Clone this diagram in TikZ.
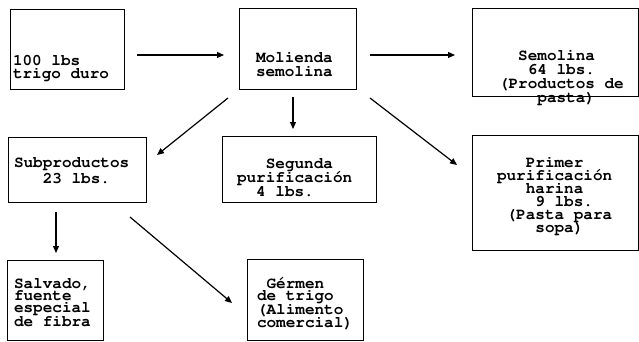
\documentclass[tikz,border=0pt]{standalone}
\usepackage[T1,TU]{fontenc}
\usetikzlibrary{arrows.meta}
\tikzset{
  box/.style={draw, line width=1pt, inner sep=0pt, outer sep=0pt},
  txt/.style={anchor=base west, align=left, inner sep=0pt, outer sep=0pt, font=\fontencoding{T1}\fontfamily{pcr}\fontseries{b}\fontsize{16}{#1}\selectfont},
  arr/.style={line width=1.2pt, -{Triangle[length=7pt,width=6pt]}}
}
\newcommand\pad[1]{\phantom{#1}}
\begin{document}
\begin{tikzpicture}[x=1pt,y=-1pt]
\useasboundingbox (0,0) rectangle (639,341);
% boxes
\node[box, minimum width=114pt, minimum height=80pt] (b1) at (67,49) {};
\node[box, minimum width=117pt, minimum height=81pt] (b2) at (297.5,48.5) {};
\node[box, minimum width=166pt, minimum height=88pt] (b3) at (555,52) {};
\node[box, minimum width=138pt, minimum height=65pt] (b4) at (77,169.5) {};
\node[box, minimum width=154pt, minimum height=66pt] (b5) at (299,169) {};
\node[box, minimum width=166pt, minimum height=115pt] (b6) at (555,192.5) {};
\node[box, minimum width=96pt, minimum height=80pt] (b7) at (55,300) {};
\node[box, minimum width=116pt, minimum height=81pt] (b8) at (305,299.5) {};
% texts (anchor = baseline of last line)
\node[txt=13pt] (t1) at (13,78) {100 lbs\\trigo duro};
\node[txt=14pt] (t2) at (256,76) {Molienda\\semolina};
\node[txt=14pt] (t3) at (499,102) {\pad{00}Semolina\\\pad{000}64 lbs.\\(Productos de\\\pad{0000}pasta)};
\node[txt=16pt] (t4) at (14,183) {Subproductos\\\pad{000}23 lbs.};
\node[txt=14pt] (t5) at (237,196) {\pad{000}Segunda\\purificaci\'on\\\pad{00}4 lbs.};
\node[txt=13pt] (t6) at (497,232) {\pad{000}Primer\\purificaci\'on\\\pad{000}harina\\\pad{0000}9 lbs.\\\pad{0}(Pasta para\\\pad{0000}sopa)};
\node[txt=12pt] (t7) at (14,326) {Salvado,\\fuente\\especial\\de fibra};
\node[txt=12.5pt] (t8) at (257,327) {\pad{0}G\'ermen\\de trigo\\(Alimento\\comercial)};
% arrows
\draw[arr] ([shift={(13,6)}]b1.east) -- ([shift={(-15,6.5)}]b2.west);
\draw[arr] ([shift={(14,6.5)}]b2.east) -- ([shift={(-17,3)}]b3.west);
\draw[arr] ([shift={(-11,9)}]b2.south west) -- ([shift={(11,-14.5)}]b4.east);
\draw[arr] ([shift={(-4.5,8)}]b2.south) -- ([shift={(-6,-7)}]b5.north);
\draw[arr] ([shift={(14,9)}]b2.south east) -- ([shift={(-15,30)}]b6.north west);
\draw[arr] ([shift={(-21,10)}]b4.south) -- ([shift={(1,-7)}]b7.north);
\draw[arr] ([shift={(-16,15)}]b4.south east) -- ([shift={(-15,44)}]b8.north west);
\end{tikzpicture}
\end{document}
